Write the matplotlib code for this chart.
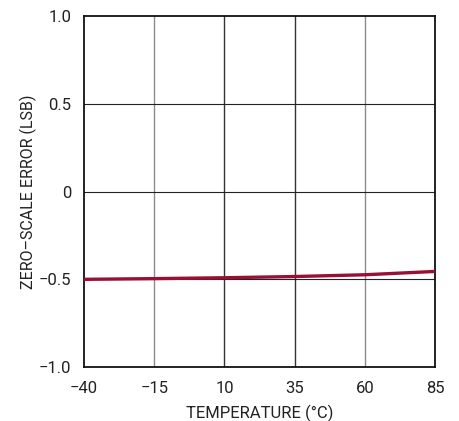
import matplotlib
matplotlib.use("Agg")
import matplotlib.pyplot as plt

plt.rcParams['font.family'] = ['Roboto', 'DejaVu Sans']

# data
temps = [-40, -15, 10, 35, 60, 85]
zs_error = [-0.500, -0.496, -0.491, -0.484, -0.474, -0.455]
xticks = [-40, -15, 10, 35, 60, 85]
xtick_labels = ['\u221240', '\u221215', '10', '35', '60', '85']
yticks = [-1.0, -0.5, 0, 0.5, 1.0]
ytick_labels = ['\u22121.0', '\u22120.5', '0', '0.5', '1.0']

fig = plt.figure(figsize=(4.59, 4.21), dpi=100)
ax = fig.add_axes([0.183, 0.128, 0.765, 0.834])

ax.plot(temps, zs_error, color='#9a0f34', lw=2.4, solid_capstyle='butt', zorder=3)

ax.set_xlim(-40, 85)
ax.set_ylim(-1.0, 1.0)
ax.set_xticks(xticks)
ax.set_xticklabels(xtick_labels)
ax.set_yticks(yticks)
ax.set_yticklabels(ytick_labels)
ax.tick_params(length=0, labelsize=12, colors='#222222')
ax.tick_params(axis='y', pad=9)
ax.tick_params(axis='x', pad=10)

for i, x in enumerate(xticks[1:-1]):
    c = '#8c8c8c' if i in (0, 3) else '#333333'
    ax.axvline(x, color=c, lw=1.0, zorder=1)
for y in yticks[1:-1]:
    ax.axhline(y, color='#222222', lw=0.8, zorder=1)

for s in ax.spines.values():
    s.set_linewidth(1.3)
    s.set_color('#111111')

ax.set_xlabel('TEMPERATURE (\u00b0C)', fontsize=12, color='#222222', labelpad=6)
ax.set_ylabel('ZERO\u2013SCALE ERROR (LSB)', fontsize=11.5, color='#222222')
ax.yaxis.set_label_coords(-0.135, 0.5)

fig.savefig('out.png', dpi=100)
